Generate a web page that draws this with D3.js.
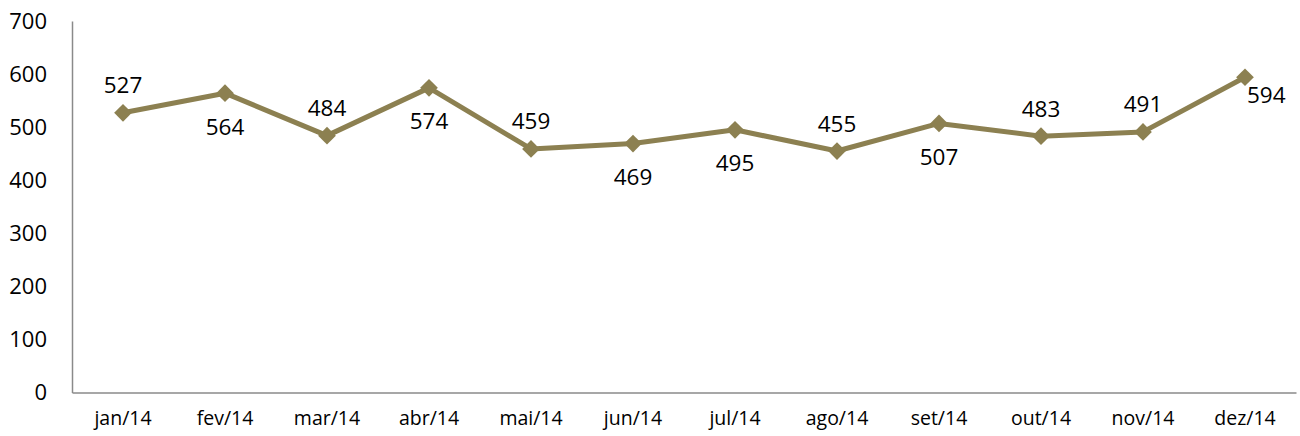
<!DOCTYPE html>
<html>
<head>
<meta charset="utf-8">
<script src="https://cdn.jsdelivr.net/npm/d3@7"></script>
<style>
  body { margin: 0; background: #fff; }
  svg text { font-family: "Open Sans", Lato, sans-serif; fill: #000; }
</style>
</head>
<body>
<svg id="chart" width="1300" height="436"></svg>
<script>
var months = ["jan/14", "fev/14", "mar/14", "abr/14", "mai/14", "jun/14",
              "jul/14", "ago/14", "set/14", "out/14", "nov/14", "dez/14"];
var values = [527, 564, 484, 574, 459, 469, 495, 455, 507, 483, 491, 594];
// where the value label sits relative to its point
var labelPos = ["above", "below", "above", "below", "above", "below",
                "below", "above", "below", "above", "above", "right"];
var yTicks = [0, 100, 200, 300, 400, 500, 600, 700];

var svg = d3.select("#chart");
var padding = {top: 21, right: 4, bottom: 43.5, left: 72};
var chartArea = {
    width: 1300 - padding.left - padding.right,
    height: 436 - padding.top - padding.bottom
};
var lineColor = "#8c8051";

var xScale = d3.scaleBand()
    .domain(months)
    .range([0, chartArea.width]);
var yScale = d3.scaleLinear()
    .domain([0, 700])
    .range([chartArea.height, 0]);

var g = svg.append("g")
    .attr("transform", "translate(" + padding.left + "," + padding.top + ")");

// axes
var yAxis = g.append("g")
    .call(d3.axisLeft(yScale).tickValues(yTicks).tickSize(0).tickPadding(25));
yAxis.select(".domain").attr("stroke", "#8a8a8a").attr("stroke-width", 1.5);
yAxis.selectAll("text").attr("font-size", 22);

var xAxis = g.append("g")
    .attr("transform", "translate(0," + chartArea.height + ")")
    .call(d3.axisBottom(xScale).tickSize(0).tickPadding(19));
xAxis.select(".domain").attr("stroke", "#8a8a8a").attr("stroke-width", 1.5);
xAxis.selectAll("text").attr("font-size", 19.5);

var cx = function(d, i) { return xScale(months[i]) + xScale.bandwidth() / 2; };
var cy = function(d) { return yScale(d); };

// line
var line = d3.line().x(cx).y(cy);
g.append("path")
    .datum(values)
    .attr("d", line)
    .attr("fill", "none")
    .attr("stroke", lineColor)
    .attr("stroke-width", 5)
    .attr("stroke-linejoin", "round");

// diamond markers
g.selectAll(".marker").data(values).enter()
    .append("path")
    .attr("class", "marker")
    .attr("d", d3.symbol().type(d3.symbolDiamond2).size(200))
    .attr("transform", function(d, i) { return "translate(" + cx(d, i) + "," + cy(d) + ")"; })
    .attr("fill", lineColor);

// value labels
g.selectAll(".lbl").data(values).enter()
    .append("text")
    .attr("class", "lbl")
    .attr("font-size", 22.5)
    .attr("dominant-baseline", "central")
    .attr("text-anchor", function(d, i) { return labelPos[i] === "right" ? "start" : "middle"; })
    .attr("x", function(d, i) { return labelPos[i] === "right" ? cx(d, i) + 2 : cx(d, i); })
    .attr("y", function(d, i) {
        if (labelPos[i] === "above") return cy(d) - 28;
        if (labelPos[i] === "below") return cy(d) + 33;
        return cy(d) + 17;
    })
    .text(function(d) { return d; });
</script>
</body>
</html>
